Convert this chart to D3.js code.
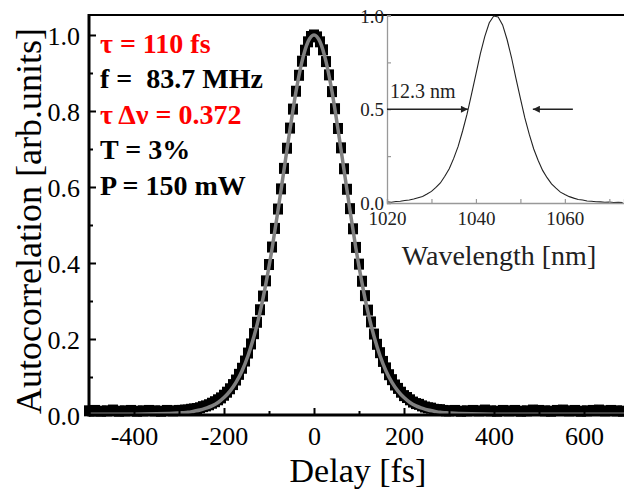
<!DOCTYPE html>
<html><head><meta charset="utf-8">
<script src="https://cdn.jsdelivr.net/npm/d3@7/dist/d3.min.js"></script>
<style>body{margin:0;background:#fff}svg{display:block}</style>
</head><body><svg id="c" width="624" height="491"></svg>
<script>
// ---- main autocorrelation data (delay in fs, normalized signal) ----
const delays = [
 -500.0,-486.7,-473.3,-460.0,-446.7,-433.3,-420.0,-406.7,-393.3,-380.0,-366.7,-353.3,-340.0,-326.7,-313.3,-300.0,
 -293.3,-286.7,-280.0,-273.3,-266.7,-260.0,-253.3,-246.7,-240.0,-233.3,-226.7,-220.0,-213.3,-206.7,-200.0,
 -193.3,-186.7,-180.0,-173.3,-166.7,-160.0,-153.3,-146.7,-140.0,-133.3,-126.7,-120.0,-113.3,-106.7,-100.0,
 -93.3,-86.7,-80.0,-73.3,-66.7,-60.0,-53.3,-46.7,-40.0,-33.3,-26.7,-20.0,-13.3,-6.7,0,
 6.7,13.3,20.0,26.7,33.3,40.0,46.7,53.3,60.0,66.7,73.3,80.0,86.7,93.3,100.0,
 106.7,113.3,120.0,126.7,133.3,140.0,146.7,153.3,160.0,166.7,173.3,180.0,186.7,193.3,200.0,
 206.7,213.3,220.0,226.7,233.3,240.0,246.7,253.3,260.0,266.7,273.3,280.0,286.7,293.3,
 300.0,313.3,326.7,340.0,353.3,366.7,380.0,393.3,406.7,420.0,433.3,446.7,460.0,473.3,486.7,500.0,
 513.3,526.7,540.0,553.3,566.7,580.0,593.3,606.7,620.0,633.3,646.7,660.0,673.3,686.7,700.0
];
const signal = [
 0.011,0.012,0.010,0.011,0.013,0.010,0.011,0.012,0.010,0.011,0.012,0.011,0.010,0.012,0.011,0.012,
 0.012,0.013,0.013,0.015,0.016,0.017,0.019,0.022,0.024,0.027,0.031,0.035,0.040,0.045,0.052,
 0.060,0.069,0.080,0.092,0.107,0.123,0.142,0.163,0.187,0.214,0.244,0.277,0.313,0.353,0.396,
 0.442,0.491,0.542,0.595,0.649,0.702,0.755,0.805,0.852,0.894,0.931,0.960,0.982,0.996,1.000,
 0.995,0.982,0.961,0.930,0.895,0.851,0.806,0.754,0.703,0.648,0.594,0.543,0.490,0.441,0.397,
 0.352,0.314,0.276,0.245,0.213,0.186,0.164,0.141,0.124,0.106,0.093,0.079,0.070,0.060,0.051,
 0.046,0.040,0.034,0.030,0.028,0.024,0.021,0.019,0.018,0.015,0.014,0.014,0.012,0.011,
 0.011,0.012,0.010,0.011,0.012,0.011,0.013,0.011,0.010,0.012,0.011,0.012,0.010,0.011,0.013,0.012,
 0.011,0.010,0.012,0.013,0.011,0.012,0.010,0.011,0.012,0.013,0.011,0.012,0.011,0.010,0.012
];
// ---- sech^2 fit ----
const fitDelays = [
 -500,-450,-400,-350,-293.3,-280.0,-266.7,-253.3,-240.0,-226.7,-213.3,-200.0,-186.7,-173.3,-160.0,
 -146.7,-133.3,-120.0,-106.7,-93.3,-80.0,-66.7,-53.3,-40.0,-26.7,-13.3,0,
 13.3,26.7,40.0,53.3,66.7,80.0,93.3,106.7,120.0,133.3,146.7,160.0,173.3,186.7,200.0,
 213.3,226.7,240.0,253.3,266.7,280.0,293.3,350,400,450,500,600,700
];
const fitValues = [
 0.002,0.002,0.002,0.003,0.006,0.007,0.010,0.013,0.018,0.024,0.033,0.046,0.063,0.086,0.116,
 0.156,0.207,0.270,0.347,0.437,0.538,0.645,0.752,0.851,0.930,0.982,1.000,
 0.982,0.930,0.851,0.752,0.645,0.538,0.437,0.347,0.270,0.207,0.156,0.116,0.086,0.063,0.046,
 0.033,0.024,0.018,0.013,0.010,0.007,0.006,0.003,0.002,0.002,0.002,0.002,0.002
];
// ---- inset spectrum ----
const wavelengths = [1020,1021,1022,1023,1024,1025,1026,1027,1028,1029,1030,1031,1032,1033,1034,1035,1036,1037,1038,1039,
 1040,1041,1042,1043,1044,1045,1046,1047,1048,1049,1050,1051,1052,1053,1054,1055,1056,1057,1058,1059,
 1060,1061,1062,1063,1064,1065,1066,1067,1068,1069,1070,1071,1072,1073];
const spectrum = [0.006,0.004,0.008,0.009,0.013,0.016,0.021,0.028,0.035,0.048,0.062,0.083,0.107,0.143,0.183,0.238,0.302,0.384,0.474,0.579,
 0.687,0.797,0.889,0.961,0.997,0.992,0.950,0.872,0.776,0.665,0.558,0.454,0.366,0.288,0.227,0.174,0.135,0.102,0.079,0.058,
 0.045,0.034,0.026,0.019,0.016,0.011,0.009,0.007,0.006,0.004,0.005,0.003,0.004,0.003];

const xTicks = [-400,-200,0,200,400,600];
const xMinor = [-500,-300,-100,100,300,500,700];
const yTicks = [0,0.2,0.4,0.6,0.8,1.0];
const yMinor = [0.1,0.3,0.5,0.7,0.9];
const insetXTicks = [1020,1040,1060];
const insetXMinor = [1030,1050,1070];
const insetYTicks = [0,0.5,1.0];
const insetYMinor = [0.25,0.75];
const fwhmArrows = [[1020,1038.2],[1061.8,1052.8]];
const fwhmLabel = "12.3 nm";
const infoLines = ["τ = 110 fs","f =\u00A0\u00A083.7 MHz","τ Δν = 0.372","T = 3%","P = 150 mW"];
const infoColors = ["#ff0000","#000","#ff0000","#000","#000"];

const svg = d3.select("#c");
const serif = "'Liberation Serif','Times New Roman',serif";

const x = d3.scaleLinear().domain([-500,700]).range([89,629]);
const y = d3.scaleLinear().domain([0,1.0526]).range([415,15]);

// data squares
svg.append("g").selectAll("rect").data(delays.map((d,i)=>[d,signal[i]])).join("rect")
  .attr("x",d=>x(d[0])-5).attr("y",d=>y(d[1])-5.5).attr("width",10).attr("height",11).attr("fill","#000");

// fit
svg.append("path").datum(fitDelays.map((d,i)=>[d,fitValues[i]]))
  .attr("fill","none").attr("stroke","#808080").attr("stroke-width",3.5)
  .attr("d",d3.line().x(d=>x(d[0])).y(d=>y(d[1])).curve(d3.curveMonotoneX));

// main axes
const gx = svg.append("g").attr("transform","translate(0,415)");
gx.call(d3.axisBottom(x).tickValues(xTicks).tickSize(-7).tickPadding(12).tickFormat(d3.format("d")));
const gxm = svg.append("g").attr("transform","translate(0,415)");
gxm.call(d3.axisBottom(x).tickValues(xMinor).tickSize(-4).tickFormat(""));
const gy = svg.append("g").attr("transform","translate(89,0)");
gy.call(d3.axisLeft(y).tickValues(yTicks).tickSize(-7).tickPadding(9).tickFormat(d3.format(".1f")));
const gym = svg.append("g").attr("transform","translate(89,0)");
gym.call(d3.axisLeft(y).tickValues(yMinor).tickSize(-4).tickFormat(""));
[gx,gxm,gy,gym].forEach(g=>{
  g.select(".domain").remove();
  g.selectAll(".tick line").attr("stroke","#000").attr("stroke-width",2);
  g.selectAll(".tick text").attr("font-family",serif).attr("font-size",26).attr("fill","#000");
});
gx.selectAll(".tick text").attr("dy","0.72em").attr("y",11).text(d=>d<0?"-"+Math.abs(d):d);
gy.selectAll(".tick text").attr("dy","0.35em");
// frame lines
svg.append("line").attr("x1",89).attr("x2",624).attr("y1",415).attr("y2",415).attr("stroke","#000").attr("stroke-width",3);
svg.append("line").attr("x1",89).attr("x2",89).attr("y1",14).attr("y2",416.5).attr("stroke","#000").attr("stroke-width",3);
svg.append("line").attr("x1",88).attr("x2",624).attr("y1",15).attr("y2",15).attr("stroke","#000").attr("stroke-width",2);

// axis titles
svg.append("text").attr("transform","translate(41,221) rotate(-90)").attr("text-anchor","middle")
  .attr("font-family",serif).attr("font-size",36).text("Autocorrelation [arb.units]");
svg.append("text").attr("x",358).attr("y",482).attr("text-anchor","middle")
  .attr("font-family",serif).attr("font-size",34).text("Delay [fs]");

// info text
const baselines = [53,88,124,159,195];
svg.append("g").selectAll("text").data(infoLines).join("text")
  .attr("x",100).attr("y",(d,i)=>baselines[i])
  .attr("font-family",serif).attr("font-weight","bold").attr("font-size",28)
  .attr("fill",(d,i)=>infoColors[i]).text(d=>d);

// ---- inset ----
const ix = d3.scaleLinear().domain([1020,1073.3]).range([387,624]);
const iy = d3.scaleLinear().domain([0,1]).range([203,15.5]);
const inset = svg.append("g");
inset.append("path").datum(wavelengths.map((d,i)=>[d,spectrum[i]]))
  .attr("fill","none").attr("stroke","#222").attr("stroke-width",1.1)
  .attr("d",d3.line().x(d=>ix(d[0])).y(d=>iy(d[1])));
const igx = inset.append("g").attr("transform","translate(0,203)")
  .call(d3.axisBottom(ix).tickValues(insetXTicks.concat(insetXMinor)).tickSize(-4).tickPadding(6).tickFormat(d=>insetXTicks.includes(d)?d:""));
const igy = inset.append("g").attr("transform","translate(387,0)")
  .call(d3.axisLeft(iy).tickValues(insetYTicks.concat(insetYMinor)).tickSize(-4).tickPadding(3).tickFormat(d=>insetYTicks.includes(d)?d3.format(".1f")(d):""));
[igx,igy].forEach(g=>{
  g.select(".domain").attr("stroke","#999").attr("stroke-width",1.3);
  g.selectAll(".tick line").attr("stroke","#999").attr("stroke-width",1.2);
  g.selectAll(".tick text").attr("font-family",serif).attr("font-size",19).attr("fill","#222");
});
igx.selectAll(".tick text").attr("dy","0.72em").attr("y",8);
igy.selectAll(".tick text").attr("dy","0.35em");
inset.append("text").attr("x",499).attr("y",265).attr("text-anchor","middle")
  .attr("font-family",serif).attr("font-size",28).attr("fill","#222").text("Wavelength [nm]");
// FWHM arrows
svg.append("defs").append("marker").attr("id","ah").attr("viewBox","0 0 10 10").attr("refX",10).attr("refY",5)
  .attr("markerWidth",11).attr("markerHeight",7).attr("markerUnits","userSpaceOnUse").attr("orient","auto")
  .append("path").attr("d","M0,0 L10,5 L0,10 Z").attr("fill","#222");
inset.selectAll("line.arr").data(fwhmArrows).join("line").attr("class","arr")
  .attr("x1",d=>ix(d[0])).attr("x2",d=>ix(d[1])).attr("y1",iy(0.5)).attr("y2",iy(0.5))
  .attr("stroke","#222").attr("stroke-width",1.6).attr("marker-end","url(#ah)");
inset.append("text").attr("x",ix(1020.7)).attr("y",iy(0.56)).attr("font-family",serif)
  .attr("font-size",20).attr("fill","#222").text(fwhmLabel);
</script></body></html>
